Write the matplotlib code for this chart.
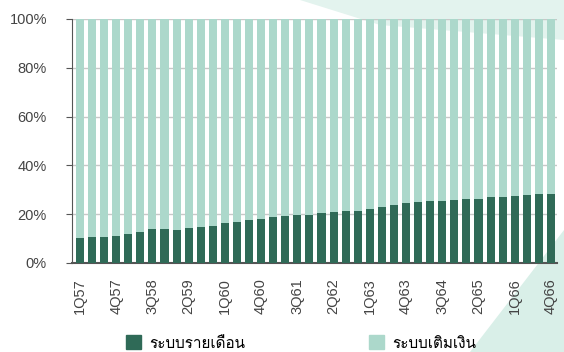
import matplotlib
matplotlib.use("Agg")
import matplotlib.pyplot as plt
from matplotlib import font_manager
from matplotlib.ft2font import FT2Font
from matplotlib.patches import Patch, Polygon
import numpy as np

# quarters 1Q57 .. 4Q66
quarters = [f"{q}Q{y}" for y in range(57, 67) for q in range(1, 5)]
postpaid = [10.2, 10.6, 10.7, 10.9, 11.8, 12.9, 14.0, 13.9, 13.7, 14.5,
            14.9, 15.3, 16.2, 17.0, 17.8, 18.2, 18.8, 19.3, 19.6, 19.6,
            20.4, 21.1, 21.5, 21.5, 22.0, 23.1, 23.7, 24.5, 24.8, 25.3,
            25.6, 26.0, 26.3, 26.4, 26.9, 27.2, 27.3, 27.9, 28.4, 28.4]
prepaid = [100 - v for v in postpaid]
labels = ["ระบบรายเดือน", "ระบบเติมเงิน"]

dark = "#2f6a57"
light = "#acd8cb"

# pick a font that has Thai glyphs
thai_font = None
for f in font_manager.fontManager.ttflist:
    try:
        if FT2Font(f.fname).get_char_index(ord("ร")):
            thai_font = f.name
            break
    except Exception:
        pass
families = ([thai_font] if thai_font else []) + ["DejaVu Sans"]
plt.rcParams["font.family"] = ["Liberation Sans", "DejaVu Sans"]

W, H = 564, 352
fig = plt.figure(figsize=(W / 100, H / 100), dpi=100)

# faint background shapes
bg = fig.add_axes([0, 0, 1, 1], zorder=-1)
bg.set_xlim(0, W)
bg.set_ylim(H, 0)
bg.axis("off")
bg.add_patch(Polygon([(300, 0), (564, 0), (564, 40), (380, 25)], closed=True,
                     color="#e3f3ee", lw=0))
bg.add_patch(Polygon([(470, 352), (564, 230), (564, 352)], closed=True,
                     color="#d9efe8", lw=0))

ax = fig.add_axes([72 / W, 1 - 263 / H, 485 / W, 244 / H])
ax.patch.set_alpha(0)

x = np.arange(len(quarters))
ax.bar(x, postpaid, width=0.67, color=dark, zorder=3)
ax.bar(x, prepaid, bottom=postpaid, width=0.67, color=light, zorder=3)

ax.set_xlim(-0.66, 39.5)
ax.set_ylim(0, 100)
ax.set_yticks(range(0, 101, 20))
ax.set_yticklabels([f"{v}%" for v in range(0, 101, 20)])
ax.yaxis.grid(True, color="#c8c8c8", linewidth=1, zorder=0)

ax.set_xticks(x[::3])
ax.set_xticklabels(quarters[::3], rotation=90, va="top", ha="center")
ax.tick_params(axis="x", length=0, pad=11, labelsize=10.5, labelcolor="#444444")
ax.tick_params(axis="y", length=4, color="#555555", pad=14, labelsize=10.5,
               labelcolor="#444444")

for s in ["top", "right"]:
    ax.spines[s].set_visible(False)
ax.spines["left"].set_color("#555555")
ax.spines["bottom"].set_color("#555555")
ax.spines["bottom"].set_linewidth(1.5)

# legend entries placed one by one
for lab, col, x0 in zip(labels, [dark, light], [126, 369]):
    fig.legend([Patch(color=col)], [lab], loc="center left",
               bbox_to_anchor=(x0 / W, 1 - 343 / H), frameon=False,
               borderpad=0, borderaxespad=0, handlelength=1.0, handleheight=1.0,
               handletextpad=0.5, prop={"family": families, "size": 11})

fig.savefig("out.png", dpi=100)
